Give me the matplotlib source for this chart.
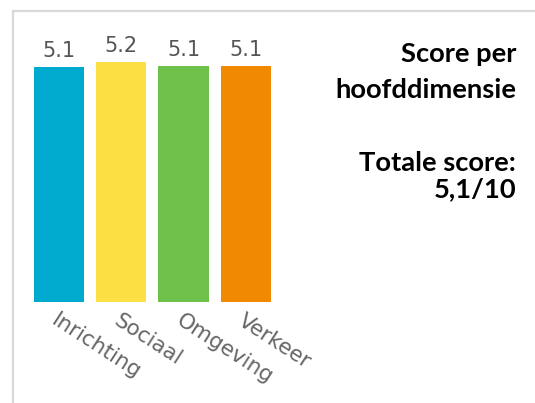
import matplotlib
matplotlib.use("Agg")
import matplotlib.pyplot as plt
from matplotlib.lines import Line2D

categories = ["Inrichting", "Sociaal", "Omgeving", "Verkeer"]
scores = [5.09, 5.20, 5.11, 5.11]
colors = ["#00AACF", "#FBDF43", "#6EC24B", "#F18A00"]
title_lines = ["Score per", "hoofddimensie"]
total_lines = ["Totale score:", "5,1/10"]

W, H = 535, 403
fig = plt.figure(figsize=(W / 100, H / 100), dpi=100)
fig.patch.set_facecolor("white")

# frame lines (top and left)
fig.add_artist(Line2D([13 / W, 1], [1 - 11 / H, 1 - 11 / H], color="#d9d9d9", lw=1.6))
fig.add_artist(Line2D([13 / W, 13 / W], [1 - 11 / H, 0], color="#d9d9d9", lw=1.6))

ax = fig.add_axes([28.05 / W, 100.7 / H, 248.8 / W, 276.9 / H])
x = list(range(len(categories)))
bars = ax.bar(x, scores, width=0.807, color=colors, edgecolor="none")
ax.set_xlim(-0.5, len(categories) - 0.5)
ax.set_ylim(0, 6)
for s in ax.spines.values():
    s.set_visible(False)
ax.set_yticks([])
ax.set_xticks(x)
ax.set_xticklabels(categories, rotation=-33, ha="left", rotation_mode="anchor",
                   fontsize=15.5, color="#666666", family="DejaVu Sans")
ax.tick_params(axis="x", length=0, pad=6)
ax.patch.set_alpha(0)

for xi, v in zip(x, scores):
    ax.annotate(f"{v:.1f}", (xi, v), xytext=(0, 7.2), textcoords="offset points",
                ha="center", va="baseline", fontsize=15, color="#555555",
                family="DejaVu Sans", annotation_clip=False)

fs = 19.7
for txt, yy in zip(title_lines + total_lines, [62.0, 98.3, 170.7, 196.7]):
    fig.text(516 / W, 1 - yy / H, txt, ha="right", va="baseline",
             fontsize=fs, fontweight="bold", family="Lato", color="black")

fig.savefig("out.png", dpi=100, facecolor="white")
